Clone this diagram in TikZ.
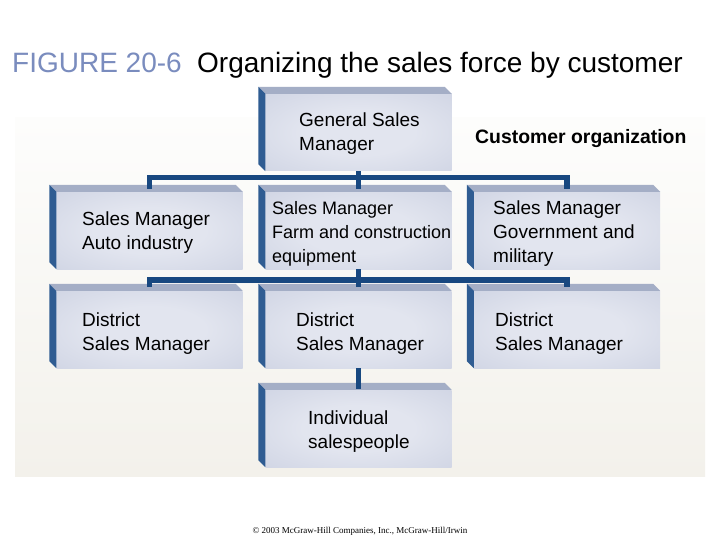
\documentclass[tikz,border=0pt]{standalone}
\usepackage{fontspec}
\setmainfont{Liberation Sans}
\newfontfamily\crfont{Liberation Serif}
\definecolor{fcin}{RGB}{226,229,239}
\definecolor{fcout}{RGB}{188,195,216}
\definecolor{topc}{RGB}{164,174,198}
\definecolor{sidec}{RGB}{47,92,146}
\definecolor{linec}{RGB}{24,72,128}
\definecolor{bgtop}{RGB}{253,253,252}
\definecolor{bgbot}{RGB}{243,241,235}
\definecolor{figc}{RGB}{122,140,190}
\pgfdeclareradialshading{facesh}{\pgfpoint{0bp}{0bp}}{color(0bp)=(fcin); color(15bp)=(fcin); color(62bp)=(fcout); color(80bp)=(fcout)}
\newcommand\boxsides[1]{%
  \fill[topc] (#1.north west) -- ([shift={(-7pt,7pt)}]#1.north west) -- ([shift={(-7pt,7pt)}]#1.north east) -- (#1.north east) -- cycle;
  \fill[sidec] (#1.north west) -- ([shift={(-7pt,7pt)}]#1.north west) -- ([shift={(-7pt,7pt)}]#1.south west) -- (#1.south west) -- cycle;}
\begin{document}
\begin{tikzpicture}[x=1pt,y=-1pt,
  face/.style={rectangle, minimum width=186pt, minimum height=77pt, inner sep=0pt, shading=facesh},
  lbl/.style={anchor=west, align=left, inner sep=0pt, font=\fontsize{19}{24}\selectfont, text=black},
  conn/.style={draw=linec, line width=5.5pt}]
\useasboundingbox (0,0) rectangle (720,540);
\fill[white] (0,0) rectangle (720,540);
\shade[top color=bgtop, bottom color=bgbot] (15,118) rectangle (705,476);

% title
\node[anchor=base west, inner sep=0pt, font=\fontsize{28}{30}\selectfont] (title) at (12,73)
  {\textcolor{figc}{FIGURE 20-6}\hspace{0.55em}Organizing the sales force by customer};
\node[anchor=base west, inner sep=0pt, font=\fontsize{19.4}{22}\selectfont\bfseries] (org) at (475,144) {Customer organization};

% boxes
\node[face] (gsm) at (358.5,132.5) {};
\node[face] (sml) at (149.5,230.5) {};
\node[face] (smm) at (358.5,230.5) {};
\node[face] (smr) at (567,230.5) {};
\node[face] (dl) at (149.5,329.5) {};
\node[face] (dm) at (358.5,329.5) {};
\node[face] (dr) at (567,329.5) {};
\node[face] (ind) at (358.5,428.5) {};
\boxsides{gsm}\boxsides{sml}\boxsides{smm}\boxsides{smr}
\boxsides{dl}\boxsides{dm}\boxsides{dr}\boxsides{ind}

% labels
\node[lbl] (tgsm) at (299,134) {General Sales\\Manager};
\node[lbl] (tsml) at (82,233) {Sales Manager\\Auto industry};
\node[lbl, font=\fontsize{18}{24}\selectfont] (tsmm) at (272,234) {Sales Manager\\Farm and construction\\equipment};
\node[lbl] (tsmr) at (493,234) {Sales Manager\\Government and\\military};
\node[lbl] (tdl) at (82,334) {District\\Sales Manager};
\node[lbl] (tdm) at (296,334) {District\\Sales Manager};
\node[lbl] (tdr) at (495,334) {District\\Sales Manager};
\node[lbl] (tind) at (308,432) {Individual\\salespeople};

% connectors
\coordinate (bus1) at (0,177.5);
\coordinate (bus2) at (0,280);
\draw[conn] ([yshift=3pt]sml.north) -- (sml.north |- bus1) -- (smr.north |- bus1) -- ([yshift=3pt]smr.north);
\draw[conn] (gsm.south) -- ([yshift=3pt]smm.north);
\draw[conn] ([yshift=4pt]dl.north) -- (dl.north |- bus2) -- (dr.north |- bus2) -- ([yshift=4pt]dr.north);
\draw[conn] (smm.south) -- ([yshift=4pt]dm.north);
\draw[conn] (dm.south) -- ([yshift=1pt]ind.north);

% copyright
\node[inner sep=0pt, font=\crfont\fontsize{9}{10}\selectfont] (copy) at (360,531) {\textcopyright\ 2003 McGraw-Hill Companies, Inc., McGraw-Hill/Irwin};
\end{tikzpicture}
\end{document}
